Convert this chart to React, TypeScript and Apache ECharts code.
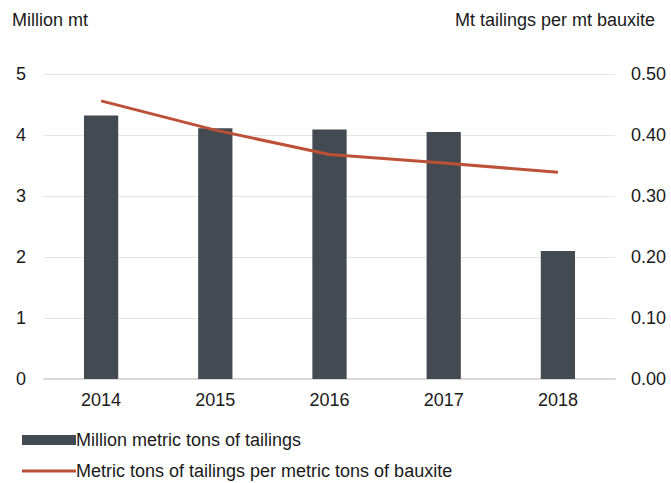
import React, { useEffect, useRef } from "react";
import * as echarts from "echarts";

const years = ["2014", "2015", "2016", "2017", "2018"];
const tailings = [4.32, 4.11, 4.09, 4.05, 2.1];
const ratio = [0.456, 0.408, 0.368, 0.354, 0.339];
const barName = "Million metric tons of tailings";
const lineName = "Metric tons of tailings per metric tons of bauxite";
const leftTitle = "Million mt";
const rightTitle = "Mt tailings per mt bauxite";

const FONT = "Liberation Sans, Arial, sans-serif";
const TEXT = "#1a1a1a";
const LINE = "#bd5137";
const FS = 18;

export default function App() {
  const ref = useRef<HTMLDivElement>(null);
  useEffect(() => {
    const chart = echarts.init(ref.current!, null, { renderer: "svg" });
    const legendText = { fontSize: FS, color: TEXT, fontFamily: FONT, padding: [0, 0, 0, -5] };
    chart.setOption({
      animation: false,
      textStyle: { fontFamily: FONT },
      grid: { left: 44, right: 56, top: 74, bottom: 104 },
      graphic: [
        { type: "text", left: 12, top: 11, style: { text: leftTitle, fontSize: FS, fill: TEXT, fontFamily: FONT } },
        { type: "text", right: 16, top: 11, style: { text: rightTitle, fontSize: FS, fill: TEXT, fontFamily: FONT } },
      ],
      legend: [
        {
          left: 17,
          top: 426,
          itemWidth: 54,
          itemHeight: 10,
          textStyle: legendText,
          data: [{ name: barName, icon: "rect" }],
        },
        {
          left: 17,
          top: 457,
          itemWidth: 54,
          itemHeight: 3,
          textStyle: legendText,
          data: [{ name: lineName, icon: "rect" }],
        },
      ],
      xAxis: {
        type: "category",
        data: years,
        axisTick: { show: false },
        axisLine: { lineStyle: { color: "#d9d9d9", width: 2 } },
        axisLabel: { fontSize: FS, color: TEXT, margin: 12, fontFamily: FONT },
      },
      yAxis: [
        {
          type: "value",
          min: 0,
          max: 5,
          interval: 1,
          splitLine: { lineStyle: { color: "#e4e4e4", width: 1 } },
          axisLabel: { fontSize: FS, color: TEXT, margin: 18, fontFamily: FONT },
          axisLine: { show: false },
          axisTick: { show: false },
        },
        {
          type: "value",
          min: 0,
          max: 0.5,
          interval: 0.1,
          splitLine: { show: false },
          axisLabel: {
            fontSize: FS,
            color: TEXT,
            margin: 16,
            fontFamily: FONT,
            formatter: (v: number) => v.toFixed(2),
          },
          axisLine: { show: false },
          axisTick: { show: false },
        },
      ],
      series: [
        {
          name: barName,
          type: "bar",
          data: tailings,
          barWidth: "30%",
          itemStyle: { color: "#434a51" },
        },
        {
          name: lineName,
          type: "line",
          yAxisIndex: 1,
          data: ratio,
          symbol: "none",
          lineStyle: { color: LINE, width: 3 },
          itemStyle: { color: LINE },
        },
      ],
    });
    return () => chart.dispose();
  }, []);
  return (
    <div
      ref={ref}
      style={{ position: "fixed", left: 0, top: 0, width: 671, height: 483, background: "#fff" }}
    />
  );
}
